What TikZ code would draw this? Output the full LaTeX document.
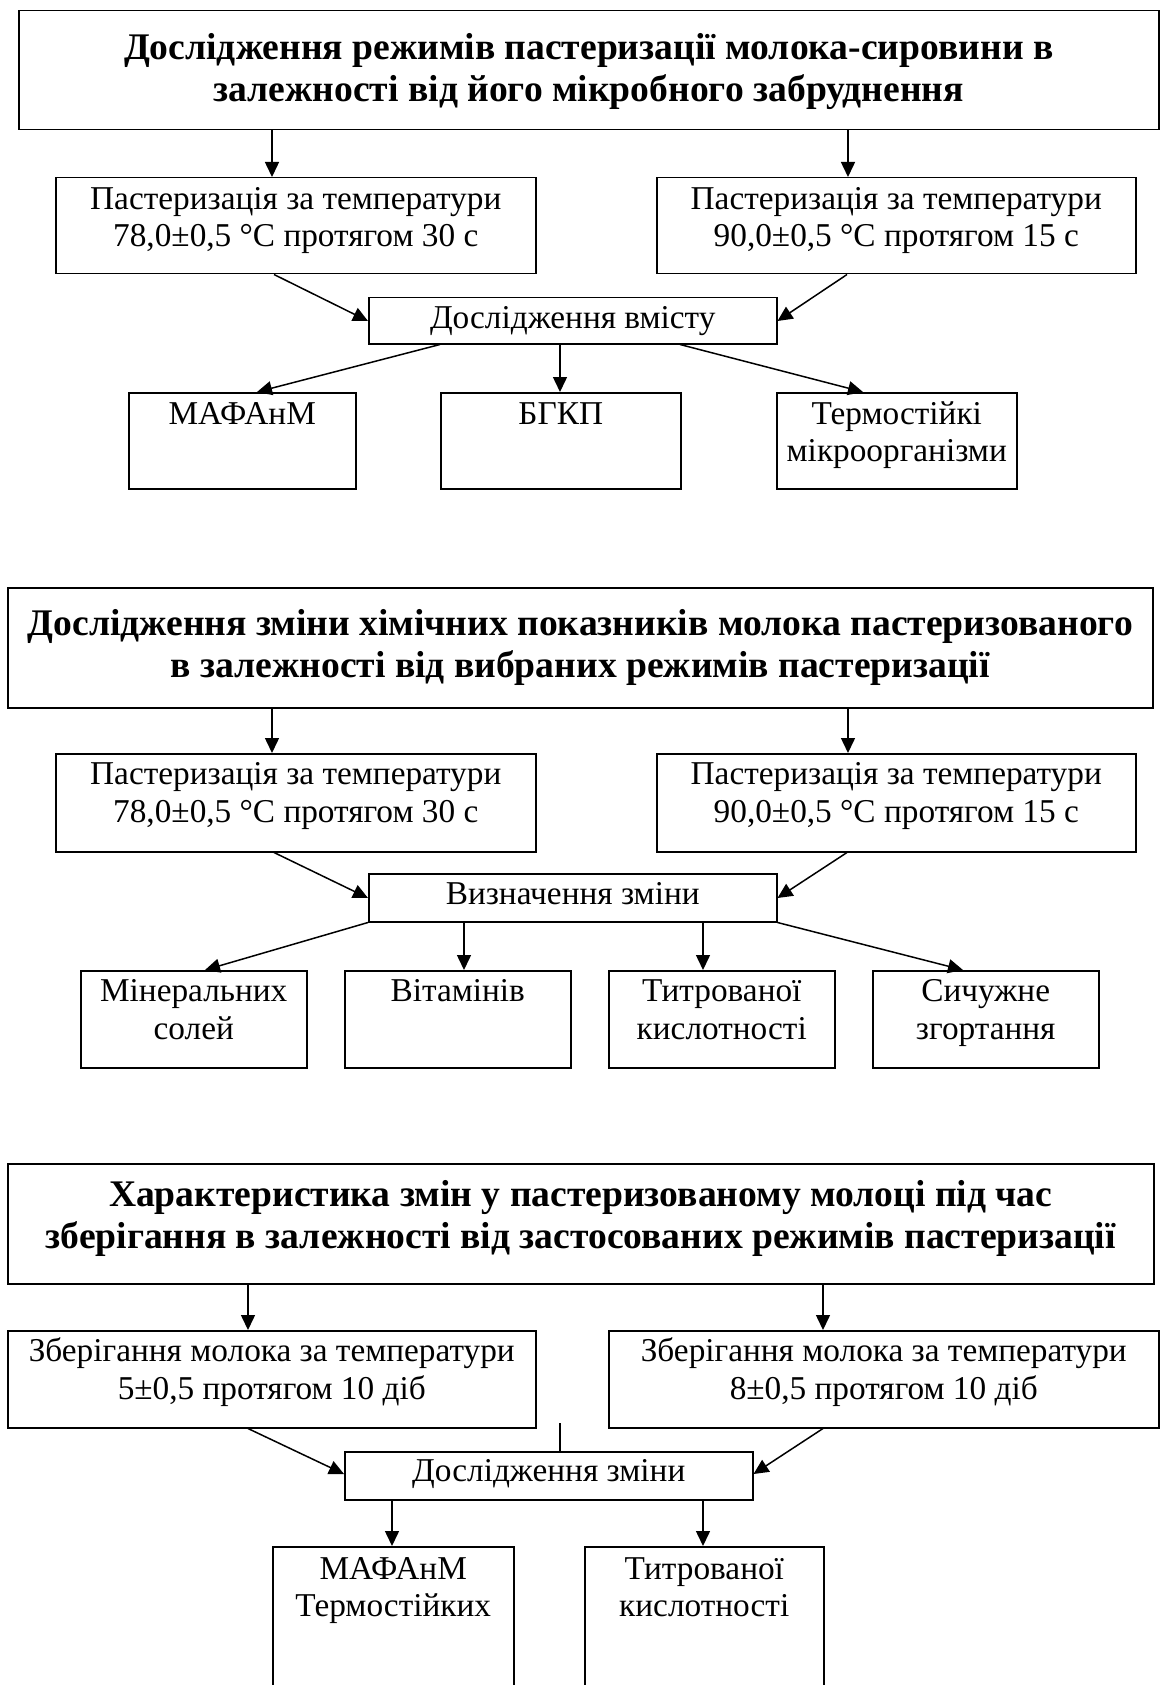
\documentclass[tikz,border=0pt]{standalone}
\usepackage{fontspec}
\setmainfont{Liberation Serif}
\usetikzlibrary{arrows.meta}
\tikzset{
  boxnode/.style={draw, line width=1.5pt, rectangle, inner sep=0pt, anchor=north west},
  body/.style={anchor=base, align=center, inner sep=0pt, font=\fontsize{33.3}{37.5}\selectfont},
  ttl/.style={anchor=base, align=center, inner sep=0pt, font=\fontsize{37.6}{42}\selectfont\bfseries},
  arr/.style={line width=1.5pt, -{Triangle[length=15pt,width=14pt]}},
  plain/.style={line width=1.5pt}
}
\newcommand{\bx}[5]{\node[boxnode, minimum width={#4-#2}, minimum height={#5-#3}] (#1) at (#2,#3) {};}
\begin{document}
\begin{tikzpicture}[x=1pt,y=-1pt]
\useasboundingbox[fill=white] (0,0) rectangle (1160,1685);
\clip (0,0) rectangle (1160,1685);
% ---------- Block 1 ----------
\bx{T1}{18}{10}{1158}{129}
\node[ttl, yshift=-92pt] (t1) at (T1.north) {Дослідження режимів пастеризації молока-сировини в\\залежності від його мікробного забруднення};
\bx{L1}{55}{177}{535}{273}
\node[body, yshift=-70pt] (l1) at (L1.north) {Пастеризація за температури\\78,0±0,5 °C протягом 30 с};
\bx{R1}{656}{177}{1135}{273}
\node[body, yshift=-70pt] (r1) at (R1.north) {Пастеризація за температури\\90,0±0,5 °C протягом 15 с};
\bx{M1}{368}{297}{776}{343}
\node[body, yshift=-31pt] (m1) at (M1.north) {Дослідження вмісту};
\bx{Ba}{128}{392}{355}{488}
\node[body, yshift=-32pt] (ba) at (Ba.north) {МАФАнМ};
\bx{Bb}{440}{392}{680}{488}
\node[body, yshift=-32pt] (bb) at (Bb.north) {БГКП};
\bx{Bc}{776}{392}{1016}{488}
\node[body, yshift=-69.5pt] (bc) at (Bc.north) {Термостійкі\\мікроорганізми};
\draw[arr] (T1.south -| 272,0) -- (L1.north -| 272,0);
\draw[arr] (T1.south -| 848,0) -- (R1.north -| 848,0);
\draw[arr] (L1.south -| 274,0) -- (M1.west |- 0,321);
\draw[arr] (R1.south -| 847,0) -- (M1.east |- 0,321);
\draw[arr] (M1.south -| 440,0) -- (Ba.north -| 257,0);
\draw[arr] (M1.south -| 560,0) -- (Bb.north -| 560,0);
\draw[arr] (M1.south -| 680,0) -- (Bc.north -| 863,0);
% ---------- Block 2 ----------
\bx{T2}{7}{587}{1152}{707}
\node[ttl, yshift=-90pt] (t2) at (T2.north) {Дослідження зміни хімічних показників молока пастеризованого\\в залежності від вибраних режимів пастеризації};
\bx{L2}{55}{753}{535}{851}
\node[body, yshift=-69pt] (l2) at (L2.north) {Пастеризація за температури\\78,0±0,5 °C протягом 30 с};
\bx{R2}{656}{753}{1135}{851}
\node[body, yshift=-69pt] (r2) at (R2.north) {Пастеризація за температури\\90,0±0,5 °C протягом 15 с};
\bx{M2}{368}{873}{776}{921}
\node[body, yshift=-31.5pt] (m2) at (M2.north) {Визначення зміни};
\bx{Ca}{80}{970}{306}{1067}
\node[body, yshift=-69pt] (ca) at (Ca.north) {Мінеральних\\солей};
\bx{Cb}{344}{970}{570}{1067}
\node[body, yshift=-31.5pt] (cb) at (Cb.north) {Вітамінів};
\bx{Cc}{608}{970}{834}{1067}
\node[body, yshift=-69pt] (cc) at (Cc.north) {Титрованої\\кислотності};
\bx{Cd}{872}{970}{1098}{1067}
\node[body, yshift=-69pt] (cd) at (Cd.north) {Сичужне\\згортання};
\draw[arr] (T2.south -| 272,0) -- (L2.north -| 272,0);
\draw[arr] (T2.south -| 848,0) -- (R2.north -| 848,0);
\draw[arr] (L2.south -| 274,0) -- (M2.west |- 0,898);
\draw[arr] (R2.south -| 847,0) -- (M2.east |- 0,898);
\draw[arr] (M2.south west) -- (Ca.north -| 205,0);
\draw[arr] (M2.south -| 464,0) -- (Cb.north -| 464,0);
\draw[arr] (M2.south -| 703,0) -- (Cc.north -| 703,0);
\draw[arr] (M2.south east) -- (Cd.north -| 963,0);
% ---------- Block 3 ----------
\bx{T3}{7}{1163}{1153}{1283}
\node[ttl, yshift=-85pt] (t3) at (T3.north) {Характеристика змін у пастеризованому молоці під час\\зберігання в залежності від застосованих режимів пастеризації};
\bx{L3}{7}{1330}{535}{1427}
\node[body, yshift=-69pt] (l3) at (L3.north) {Зберігання молока за температури\\5±0,5 протягом 10 діб};
\bx{R3}{608}{1330}{1158}{1427}
\node[body, yshift=-69pt] (r3) at (R3.north) {Зберігання молока за температури\\8±0,5 протягом 10 діб};
\bx{M3}{344}{1451}{752}{1499}
\node[body, yshift=-30pt] (m3) at (M3.north) {Дослідження зміни};
\bx{Da}{272}{1546}{513}{1720}
\node[body, yshift=-70.5pt] (da) at (Da.north) {МАФАнМ\\Термостійких};
\bx{Db}{584}{1546}{823}{1720}
\node[body, yshift=-70.5pt] (db) at (Db.north) {Титрованої\\кислотності};
\coordinate (stub) at (560,1423);
\draw[plain] (stub) -- (M3.north -| stub);
\draw[arr] (T3.south -| 248,0) -- (L3.north -| 248,0);
\draw[arr] (T3.south -| 823,0) -- (R3.north -| 823,0);
\draw[arr] (L3.south -| 248,0) -- (M3.west |- 0,1474);
\draw[arr] (R3.south -| 823,0) -- (M3.east |- 0,1474);
\draw[arr] (M3.south -| 392,0) -- (Da.north -| 392,0);
\draw[arr] (M3.south -| 703,0) -- (Db.north -| 703,0);
\end{tikzpicture}
\end{document}
